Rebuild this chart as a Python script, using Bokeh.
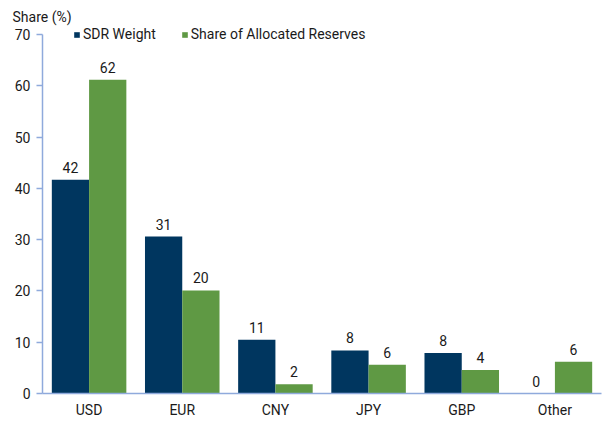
from bokeh.plotting import figure
from bokeh.models import ColumnDataSource, FactorRange, LabelSet, Legend, LegendItem, Title, FixedTicker
from bokeh.core.properties import value
from bokeh.transform import dodge
from bokeh.embed import file_html
from bokeh.resources import INLINE

categories = ["USD", "EUR", "CNY", "JPY", "GBP", "Other"]
sdr_weight = [41.7, 30.6, 10.5, 8.4, 7.9, 0.0]
reserves_share = [61.2, 20.1, 1.8, 5.6, 4.6, 6.2]
sdr_labels = ["42", "31", "11", "8", "8", "0"]
reserves_labels = ["62", "20", "2", "6", "4", "6"]
y_ticks = [0, 10, 20, 30, 40, 50, 60, 70]

FONT = "Roboto"
NAVY = "#00365F"
GREEN = "#5F9944"
AXIS = "#8FAADC"
TEXT = "#1a1a1a"

src = ColumnDataSource(dict(cat=categories, sdr=sdr_weight, res=reserves_share,
                            sdr_lab=sdr_labels, res_lab=reserves_labels))

p = figure(x_range=FactorRange(*categories), y_range=(0, 71.56), width=602, height=420,
           output_backend="svg", toolbar_location=None,
           min_border_left=42, min_border_right=1, min_border_top=26, min_border_bottom=20)

r1 = p.vbar(x=dodge("cat", -0.2, range=p.x_range), top="sdr", width=0.4, source=src,
            fill_color=NAVY, line_color=None)
r2 = p.vbar(x=dodge("cat", 0.2, range=p.x_range), top="res", width=0.4, source=src,
            fill_color=GREEN, line_color=None)

for col, lab, off in (("sdr", "sdr_lab", -0.2), ("res", "res_lab", 0.2)):
    ls = LabelSet(x=dodge("cat", off, range=p.x_range), y=col, text=lab, source=src,
                  text_align="center", text_baseline="bottom", y_offset=7,
                  text_font=value(FONT), text_font_size="14px", text_color=TEXT)
    p.add_layout(ls)

title = Title(text="Share (%)", align="left", offset=-30, text_font=FONT,
              text_font_size="14px", text_font_style="normal", text_color=TEXT,
              standoff=4)
p.add_layout(title, "above")

legend = Legend(items=[LegendItem(label="SDR Weight", renderers=[r1]),
                       LegendItem(label="Share of Allocated Reserves", renderers=[r2])],
                orientation="horizontal", location=(31, 351),
                glyph_width=7, glyph_height=7, label_standoff=3, spacing=25,
                padding=0, margin=0, border_line_color=None, background_fill_alpha=0,
                label_text_font=FONT, label_text_font_size="14px", label_text_color=TEXT,
                label_height=16)
p.add_layout(legend, "center")

p.xgrid.visible = False
p.ygrid.visible = False
p.outline_line_color = None

p.yaxis.ticker = FixedTicker(ticks=y_ticks)
p.yaxis.bounds = (0, 70)
p.yaxis.axis_line_color = AXIS
p.yaxis.axis_line_width = 1.5
p.yaxis.major_tick_line_color = AXIS
p.yaxis.major_tick_line_width = 1.5
p.yaxis.major_tick_out = 6
p.yaxis.major_tick_in = 0
p.yaxis.minor_tick_line_color = None
p.yaxis.major_label_standoff = 6
p.yaxis.major_label_text_font = FONT
p.yaxis.major_label_text_font_size = "14px"
p.yaxis.major_label_text_color = TEXT

p.xaxis.axis_line_color = AXIS
p.xaxis.axis_line_width = 1.5
p.xaxis.major_tick_line_color = None
p.xaxis.major_tick_out = 0
p.xaxis.major_tick_in = 0
p.xaxis.minor_tick_line_color = None
p.xaxis.major_label_standoff = 8
p.xaxis.major_label_text_font = FONT
p.xaxis.major_label_text_font_size = "14px"
p.xaxis.major_label_text_color = TEXT

open("out.html", "w").write(file_html(p, INLINE))
